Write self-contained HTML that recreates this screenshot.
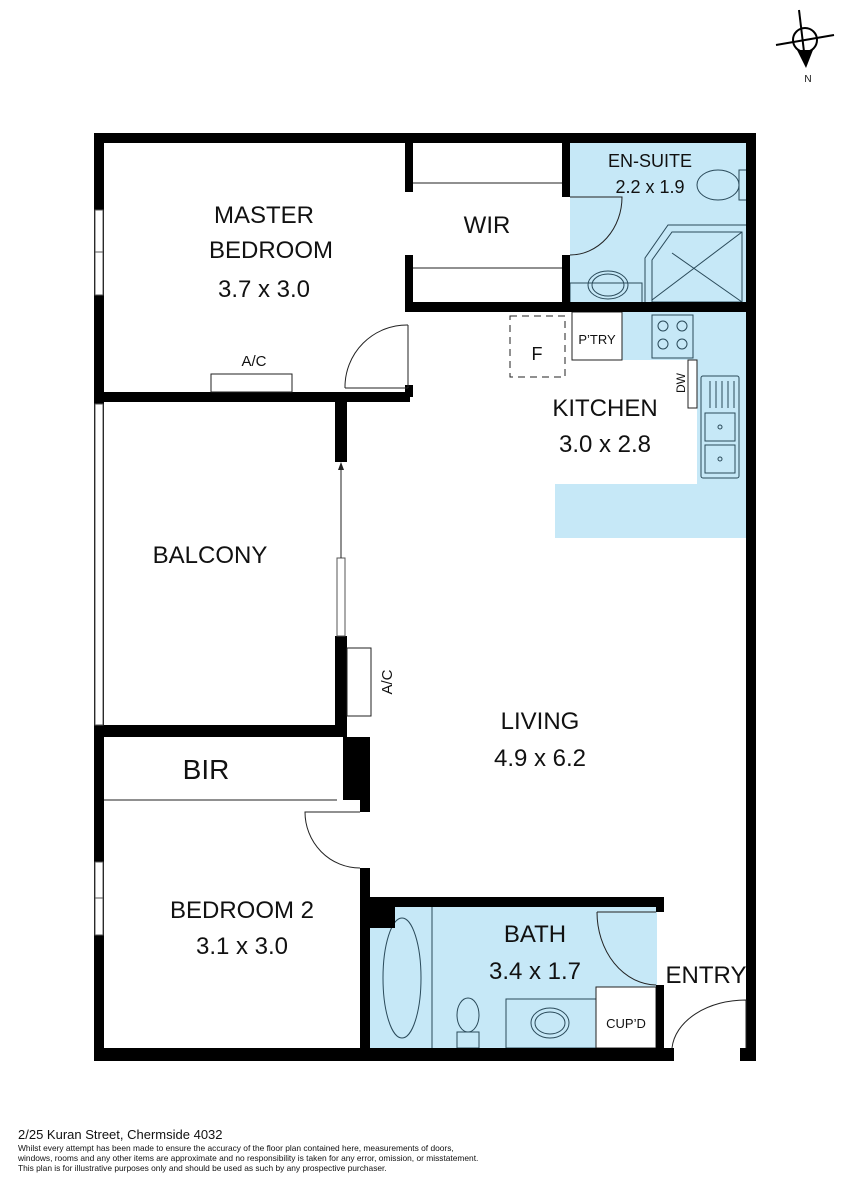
<!DOCTYPE html>
<html><head><meta charset="utf-8"><style>
html,body{margin:0;padding:0;background:#fff;}
svg{display:block;}
text{font-family:"Liberation Sans",sans-serif;fill:#111;}
</style></head><body>
<svg width="848" height="1200" viewBox="0 0 848 1200" xmlns="http://www.w3.org/2000/svg">
<rect width="848" height="1200" fill="#fff"/>
<g fill="#c6e8f7">
<rect x="570" y="143" width="177" height="160"/>
<polygon points="622,312 747,312 747,538 555,538 555,484 697,484 697,360 622,360"/>
<rect x="370" y="907" width="287" height="142"/>
</g>
<g fill="none" stroke="#2a4a5a" stroke-width="1">
<ellipse cx="718" cy="185" rx="21" ry="15"/>
<rect x="739" y="170" width="8" height="30"/>
<polygon points="645,258 668,225 747,225 747,305 645,305"/>
<polygon points="652,260 672,232 742,232 742,302 652,302"/>
<line x1="672" y1="253" x2="742" y2="302"/><line x1="742" y1="232" x2="652" y2="300"/>
<rect x="570" y="283" width="72" height="22"/>
<ellipse cx="608" cy="285" rx="20" ry="14"/><ellipse cx="608" cy="285" rx="16" ry="11"/>
<rect x="652" y="315" width="41" height="43"/>
<circle cx="663" cy="326" r="5"/><circle cx="682" cy="326" r="5"/><circle cx="663" cy="344" r="5"/><circle cx="682" cy="344" r="5"/>
<rect x="701" y="376" width="38" height="102" rx="2"/>
<rect x="705" y="413" width="30" height="28"/><rect x="705" y="445" width="30" height="28"/>
<circle cx="720" cy="427" r="2"/><circle cx="720" cy="459" r="2"/>
<line x1="710" y1="381" x2="710" y2="408"/><line x1="716" y1="381" x2="716" y2="408"/><line x1="722" y1="381" x2="722" y2="408"/><line x1="728" y1="381" x2="728" y2="408"/><line x1="734" y1="381" x2="734" y2="408"/>
<ellipse cx="402" cy="978" rx="19" ry="60"/>
<line x1="432" y1="907" x2="432" y2="1048"/>
<ellipse cx="468" cy="1015" rx="11" ry="17"/><rect x="457" y="1032" width="22" height="16"/>
<rect x="506" y="999" width="90" height="49"/>
<ellipse cx="550" cy="1023" rx="19" ry="15"/><ellipse cx="550" cy="1023" rx="15" ry="11"/>
</g>
<g fill="#fff" stroke="#222" stroke-width="1">
<rect x="572" y="312" width="50" height="48"/>
<rect x="596" y="987" width="60" height="61"/>
<rect x="688" y="360" width="9" height="48"/>
</g>
<g fill="#000">
<rect x="94" y="133" width="662" height="10"/>
<rect x="94" y="133" width="10" height="928"/>
<rect x="746" y="133" width="10" height="928"/>
<rect x="94" y="1048" width="580" height="13"/>
<rect x="740" y="1048" width="16" height="13"/>
<rect x="104" y="392" width="306" height="10"/>
<rect x="405" y="143" width="8" height="49"/>
<rect x="405" y="255" width="8" height="50"/>
<rect x="405" y="302" width="351" height="10"/>
<rect x="405" y="385" width="8" height="12"/>
<rect x="562" y="143" width="8" height="54"/>
<rect x="562" y="255" width="8" height="50"/>
<rect x="335" y="402" width="12" height="60"/>
<rect x="335" y="636" width="12" height="100"/>
<rect x="94" y="725" width="253" height="12"/>
<rect x="343" y="737" width="27" height="63"/>
<rect x="360" y="800" width="10" height="12"/>
<rect x="360" y="868" width="10" height="182"/>
<rect x="360" y="897" width="304" height="10"/>
<rect x="370" y="907" width="25" height="21"/>
<rect x="656" y="897" width="8" height="15"/>
<rect x="656" y="985" width="8" height="65"/>
<rect x="664" y="1048" width="10" height="13"/>
</g>
<g fill="#fff" stroke="#555" stroke-width="1">
<rect x="95" y="210" width="8" height="85"/><line x1="95" y1="252" x2="103" y2="252"/>
<rect x="95" y="404" width="8" height="321"/>
<rect x="95" y="862" width="8" height="73"/><line x1="95" y1="898" x2="103" y2="898"/>
<rect x="337" y="558" width="8" height="78"/>
</g>
<g fill="none" stroke="#222" stroke-width="1">
<line x1="413" y1="183" x2="562" y2="183"/><line x1="413" y1="268" x2="562" y2="268"/>
<line x1="104" y1="800" x2="337" y2="800"/>
<rect x="211" y="374" width="81" height="18"/>
<rect x="347" y="648" width="24" height="68"/>
<line x1="341" y1="465" x2="341" y2="558"/>
<path d="M345,388 A62,62 0 0 1 408,325"/><line x1="345" y1="388" x2="408" y2="388"/><line x1="408" y1="325" x2="408" y2="388"/>
<path d="M570,197 L622,197 A52,58 0 0 1 570,255"/>
<path d="M360,868 A55,56 0 0 1 305,812 L360,812"/>
<path d="M597,912 L656,912 M597,912 A60,73 0 0 0 656,985"/>
<path d="M672,1048 A74,52 0 0 1 746,1000 L746,1048"/>
<rect x="510" y="316" width="55" height="61" stroke-dasharray="7,5"/>
</g>
<polygon points="341,462 338,470 344,470" fill="#222"/>
<g stroke="#000" stroke-width="2" fill="none">
<circle cx="805" cy="40" r="12"/>
<line x1="799" y1="10" x2="805" y2="60"/>
<line x1="776" y1="45" x2="834" y2="35"/>
</g>
<polygon points="797,50 813,50 806,68" fill="#000"/>
<text x="808" y="82" font-size="10" text-anchor="middle">N</text>
<g text-anchor="middle" font-size="24">
<text x="264" y="223">MASTER</text>
<text x="271" y="258">BEDROOM</text>
<text x="264" y="297">3.7 x 3.0</text>
<text x="487" y="233">WIR</text>
<text x="210" y="563">BALCONY</text>
<text x="605" y="416">KITCHEN</text>
<text x="605" y="452">3.0 x 2.8</text>
<text x="540" y="729">LIVING</text>
<text x="540" y="766">4.9 x 6.2</text>
<text x="206" y="779" font-size="28">BIR</text>
<text x="242" y="918">BEDROOM 2</text>
<text x="242" y="954">3.1 x 3.0</text>
<text x="535" y="942">BATH</text>
<text x="535" y="979">3.4 x 1.7</text>
<text x="706" y="983">ENTRY</text>
<text x="650" y="167" font-size="18">EN-SUITE</text>
<text x="650" y="193" font-size="18">2.2 x 1.9</text>
<text x="537" y="360" font-size="18">F</text>
<text x="597" y="344" font-size="13">P’TRY</text>
<text x="254" y="366" font-size="15">A/C</text>
<text x="626" y="1028" font-size="13">CUP’D</text>
</g>
<text transform="translate(392,682) rotate(-90)" text-anchor="middle" font-size="15">A/C</text>
<text transform="translate(685,383) rotate(-90)" text-anchor="middle" font-size="12">DW</text>
<text x="18" y="1139" font-size="13">2/25 Kuran Street, Chermside 4032</text>
<g font-size="8.4">
<text x="18" y="1151">Whilst every attempt has been made to ensure the accuracy of the floor plan contained here, measurements of doors,</text>
<text x="18" y="1161">windows, rooms and any other items are approximate and no responsibility is taken for any error, omission, or misstatement.</text>
<text x="18" y="1171">This plan is for illustrative purposes only and should be used as such by any prospective purchaser.</text>
</g>
</svg>
</body></html>
